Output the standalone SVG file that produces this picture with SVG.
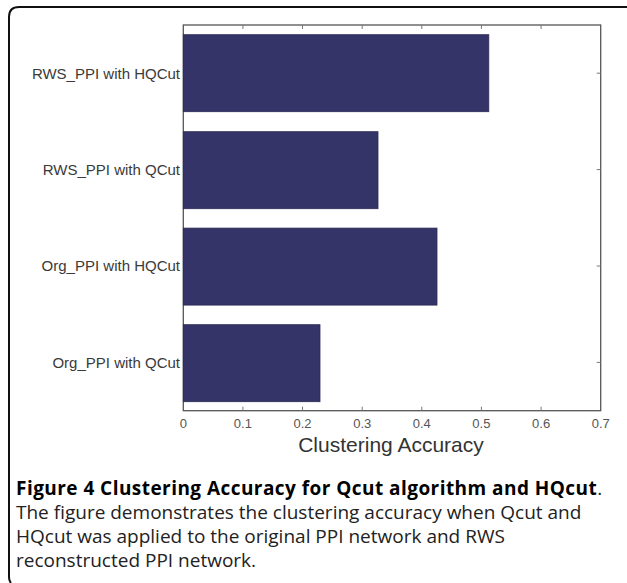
<svg xmlns="http://www.w3.org/2000/svg" width="627" height="583" viewBox="0 0 627 583">
<style>
.frame{fill:none;stroke:#111;stroke-width:2}
.axis{fill:none;stroke:#555;stroke-width:1.3}
.tick{stroke:#777;stroke-width:1}
.bar{fill:#343468;stroke:#2a2a55;stroke-width:0.8}
.ylab{font-family:"Liberation Sans",Arial,sans-serif;font-size:15px;fill:#3a3a3a;text-anchor:end}
.xlab{font-family:"Liberation Sans",Arial,sans-serif;font-size:13px;fill:#555;text-anchor:middle}
.xtitle{font-family:"Liberation Sans",Arial,sans-serif;font-size:21px;fill:#333;text-anchor:middle}
.cap{font-family:"Open Sans","Noto Sans",sans-serif;font-size:19px;fill:#222}
.capb{font-weight:bold;fill:#000;letter-spacing:0.45px}
</style>
<path class="frame" d="M11 583 Q9 581 9 577 L9 17 Q9 7 19 7 L627 7"/>
<g id="plot">
<rect class="axis" x="183.3" y="25" width="417.4" height="385.7" fill="#fff"/>
<g id="bars">
<rect id="bar-rws-hqcut" class="bar" x="183.3" y="34.7" width="305.5" height="77"/>
<rect id="bar-rws-qcut" class="bar" x="183.3" y="131.7" width="194.7" height="77"/>
<rect id="bar-org-hqcut" class="bar" x="183.3" y="228.1" width="253.7" height="77"/>
<rect id="bar-org-qcut" class="bar" x="183.3" y="324.7" width="136.7" height="77"/>
</g>
<g id="ticks">
<path class="tick" d="M242.9 25v4M302.5 25v4M362.2 25v4M421.8 25v4M481.4 25v4M541.1 25v4M242.9 410.7v-4M302.5 410.7v-4M362.2 410.7v-4M421.8 410.7v-4M481.4 410.7v-4M541.1 410.7v-4M600.7 73.2h-4M600.7 169.6h-4M600.7 266h-4M600.7 362.4h-4"/>
</g>
<g id="ylabels">
<text class="ylab" x="180" y="78.5">RWS_PPI with HQCut</text>
<text class="ylab" x="180" y="174.9">RWS_PPI with QCut</text>
<text class="ylab" x="180" y="271.3">Org_PPI with HQCut</text>
<text class="ylab" x="180" y="367.7">Org_PPI with QCut</text>
</g>
<g id="xlabels">
<text class="xlab" x="183.3" y="428">0</text>
<text class="xlab" x="242.9" y="428">0.1</text>
<text class="xlab" x="302.5" y="428">0.2</text>
<text class="xlab" x="362.2" y="428">0.3</text>
<text class="xlab" x="421.8" y="428">0.4</text>
<text class="xlab" x="481.4" y="428">0.5</text>
<text class="xlab" x="541.1" y="428">0.6</text>
<text class="xlab" x="600.7" y="428">0.7</text>
<text class="xtitle" x="391" y="452">Clustering Accuracy</text>
</g>
</g>
<g id="caption">
<text class="cap" x="16" y="495"><tspan class="capb">Figure 4 Clustering Accuracy for Qcut algorithm and HQcut</tspan>.</text>
<text class="cap" x="16" y="519">The figure demonstrates the clustering accuracy when Qcut and</text>
<text class="cap" x="16" y="543">HQcut was applied to the original PPI network and RWS</text>
<text class="cap" x="16" y="567">reconstructed PPI network.</text>
</g>
</svg>
